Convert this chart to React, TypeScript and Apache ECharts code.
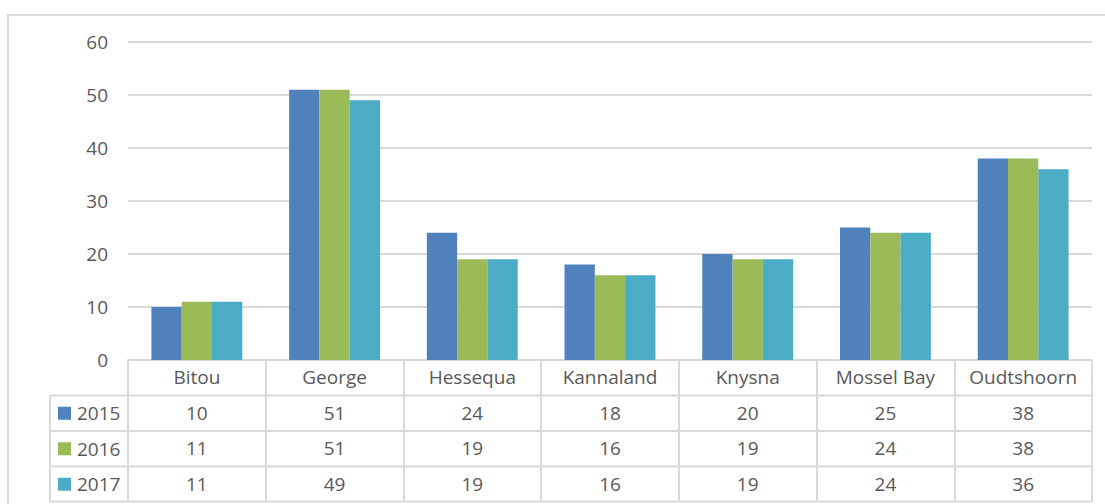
import React, { useEffect, useRef } from "react";
import * as echarts from "echarts";

const categories = ["Bitou", "George", "Hessequa", "Kannaland", "Knysna", "Mossel Bay", "Oudtshoorn"];
const years = ["2015", "2016", "2017"];
const values2015 = [10, 51, 24, 18, 20, 25, 38];
const values2016 = [11, 51, 19, 16, 19, 24, 38];
const values2017 = [11, 49, 19, 16, 19, 24, 36];
const colors = ["#4F81BD", "#9BBB59", "#4BACC6"];

const FONT = "'Open Sans', 'Noto Sans', sans-serif";
const FS = 19;
const TEXT = "#595959";
const LINE = "#D9D9D9";

export default function App() {
  const ref = useRef<HTMLDivElement>(null);
  useEffect(() => {
    if (!ref.current) return;
    const chart = echarts.init(ref.current, null, { renderer: "svg" });
    const seriesData = [values2015, values2016, values2017];
    const gridLeft = 128, gridRight = 13, gridTop = 42, gridBottom = 144;
    const axisY = 504 - gridBottom; // 360
    const rowH = 35.5;
    const rowOffsets = [rowH, rowH * 2, rowH * 3];
    const mkValueAxis = (k: number) => ({
      type: "category",
      data: categories,
      gridIndex: 0,
      position: "bottom",
      offset: rowOffsets[k],
      axisLine: { show: false },
      axisTick: { show: false },
      axisLabel: {
        interval: 0,
        margin: 17,
        verticalAlign: "middle",
        color: TEXT,
        fontSize: FS,
        fontFamily: FONT,
        formatter: (_v: string, idx: number) => String(seriesData[k][idx]),
      },
    });
    const tableRight = 1105 - gridRight;
    const hLines = [axisY + rowH, axisY + rowH * 2, axisY + rowH * 3, axisY + rowH * 4 - 0.5].map((y) => ({
      type: "line",
      shape: { x1: 50, y1: y, x2: tableRight, y2: y },
      style: { stroke: LINE, lineWidth: 2 },
      silent: true,
    }));
    const legendItems: any[] = [];
    years.forEach((yr, i) => {
      const cy = axisY + rowH * (i + 1.5);
      legendItems.push({
        type: "rect",
        shape: { x: 58, y: cy - 6.5, width: 13, height: 13 },
        style: { fill: colors[i] },
        silent: true,
      });
      legendItems.push({
        type: "text",
        x: 77,
        y: cy,
        style: {
          text: yr,
          fill: TEXT,
          fontSize: FS,
          fontFamily: FONT,
          verticalAlign: "middle",
          align: "left",
        },
        silent: true,
      });
    });
    chart.setOption({
      animation: false,
      backgroundColor: "#fff",
      grid: { left: gridLeft, right: gridRight, top: gridTop, bottom: gridBottom },
      xAxis: [
        {
          type: "category",
          data: categories,
          axisLine: { lineStyle: { color: LINE, width: 2 } },
          axisTick: { show: true, length: rowH * 4, interval: 0, lineStyle: { color: LINE, width: 2 } },
          axisLabel: {
            interval: 0,
            margin: 17,
            verticalAlign: "middle",
            color: TEXT,
            fontSize: FS,
            fontFamily: FONT,
          },
        },
        mkValueAxis(0),
        mkValueAxis(1),
        mkValueAxis(2),
      ],
      yAxis: {
        type: "value",
        min: 0,
        max: 60,
        interval: 10,
        axisLine: { show: false },
        axisTick: { show: false },
        axisLabel: { color: TEXT, fontSize: FS, fontFamily: FONT, margin: 20 },
        splitLine: { lineStyle: { color: LINE, width: 2 } },
      },
      series: years.map((y, i) => ({
        name: y,
        type: "bar",
        data: seriesData[i],
        itemStyle: { color: colors[i] },
        barGap: "0%",
        barCategoryGap: "34%",
      })),
      graphic: [
        {
          type: "rect",
          shape: { x: 8, y: 15, width: 1110, height: 500 },
          style: { fill: "none", stroke: LINE, lineWidth: 2 },
          silent: true,
          z: -10,
        },
        ...hLines,
        {
          type: "line",
          shape: { x1: 50, y1: axisY + rowH, x2: 50, y2: axisY + rowH * 4 - 0.5 },
          style: { stroke: LINE, lineWidth: 2 },
          silent: true,
        },
        ...legendItems,
      ],
    });
    return () => chart.dispose();
  }, []);
  return (
    <div
      ref={ref}
      style={{ position: "fixed", left: 0, top: 0, width: 1105, height: 504 }}
    />
  );
}
